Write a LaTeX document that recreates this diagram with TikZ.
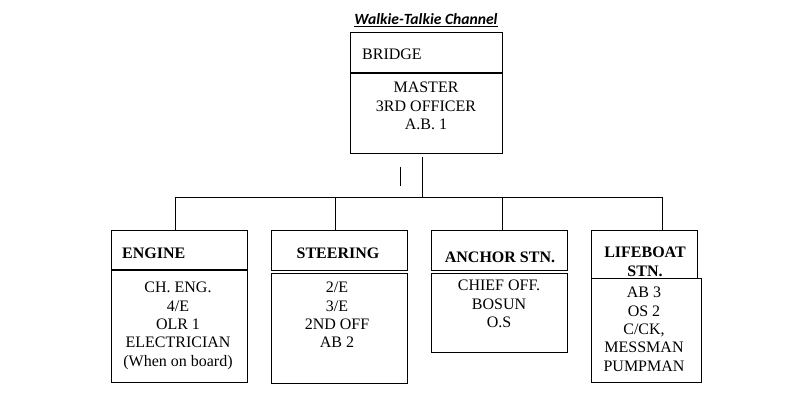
\documentclass[tikz,border=0pt]{standalone}
\usepackage{fontspec}
\setmainfont{Liberation Serif}
\newfontfamily\titlefont{Carlito}
\begin{document}
\begin{tikzpicture}[x=1pt,y=-1pt,
  box/.style={draw,line width=0.9pt,rectangle,anchor=north west,inner sep=0pt},
  divider/.style={line width=2pt},
  conn/.style={line width=0.9pt},
  lab/.style={font=\fontsize{16}{18.4}\selectfont,anchor=base,inner sep=0pt},
  hdr/.style={font=\fontsize{16}{18.4}\selectfont\bfseries,anchor=base,inner sep=0pt,align=center}]
\useasboundingbox[fill=white] (0,0) rectangle (786,419);

% title
\node[anchor=base,inner sep=0pt,font=\titlefont\fontsize{15.6}{18}\selectfont\bfseries\itshape] (title) at (426,24.5) {\underline{Walkie-Talkie Channel}};

% bridge
\node[box,minimum width=152pt,minimum height=41pt] (brH) at (350,32) {};
\node[box,minimum width=152pt,minimum height=80pt] (brB) at (350,73) {};
\draw[divider] (brB.north west) -- (brB.north east);
\node[lab,anchor=base west] (brT) at (362,60) {BRIDGE};
\node[lab,align=center,anchor=north] (brL) at (426,82) {MASTER\\3RD OFFICER\\A.B. 1};

% engine
\node[box,minimum width=136pt,minimum height=40pt] (enH) at (111,230) {};
\node[box,minimum width=136pt,minimum height=112pt] (enB) at (111,270) {};
\draw[divider] (enB.north west) -- (enB.north east);
\node[hdr,anchor=base west] (enT) at (122,258.5) {ENGINE};
\node[lab,align=center,anchor=north] (enL) at (178,282) {CH. ENG.\\4/E\\OLR 1\\ELECTRICIAN\\(When on board)};

% steering
\node[box,minimum width=136pt,minimum height=40pt] (stH) at (271,230) {};
\node[box,minimum width=136pt,minimum height=110pt] (stB) at (271,273) {};
\node[hdr] (stT) at (338,258.5) {STEERING};
\node[lab,align=center,anchor=north] (stL) at (337,282) {2/E\\3/E\\2ND OFF\\AB 2};

% anchor
\node[box,minimum width=136pt,minimum height=40pt] (anH) at (431,230) {};
\node[box,minimum width=136pt,minimum height=79pt] (anB) at (431,273) {};
\node[hdr] (anT) at (500,262.5) {ANCHOR STN.};
\node[lab,align=center,anchor=north] (anL) at (499,280) {CHIEF OFF.\\BOSUN\\O.S};

% lifeboat
\node[box,minimum width=106pt,minimum height=48pt] (lbH) at (591,230) {};
\node[box,minimum width=110pt,minimum height=104pt] (lbB) at (591,278) {};
\node[hdr,anchor=north] (lbT) at (645,247) {LIFEBOAT\\STN.};
\node[lab,align=center,anchor=north] (lbL) at (644,287) {AB 3\\OS 2\\C/CK,\\MESSMAN\\PUMPMAN};

% connectors
\coordinate (hub) at (422,197);
\coordinate (dE) at (175,197);
\coordinate (dS) at (335,197);
\coordinate (dA) at (502,197);
\coordinate (dL) at (662,197);
\draw[conn] ([yshift=-3pt]brB.south -| hub) -- (hub);
\draw[conn] (dE) -- (dL);
\draw[conn] (dE) -- (dE |- enH.north);
\draw[conn] (dS) -- (dS |- stH.north);
\draw[conn] (dA) -- (dA |- anH.north);
\draw[conn] (dL) -- (dL |- lbH.north);

% small tick
\draw[conn] (400,167) -- (400,186);
\end{tikzpicture}
\end{document}
